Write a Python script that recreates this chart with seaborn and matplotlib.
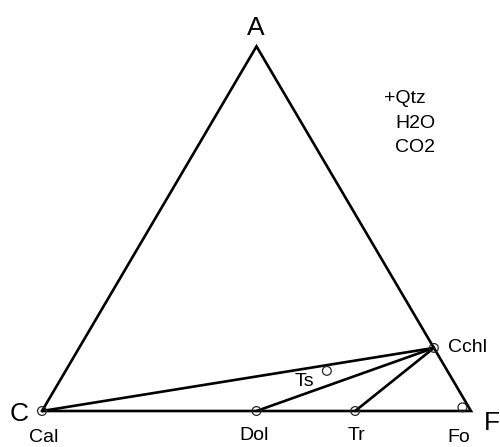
# -*- coding: utf-8 -*-
# ACF ternary diagram (siliceous dolomite, +Qtz H2O CO2)

import numpy as np
import pandas as pd
import matplotlib.pyplot as plt
import seaborn as sns

# phases as (A, C, F) fractions
phases = ['Cal', 'Dol', 'Tr', 'Fo', 'Cchl', 'Ts']
A_frac = [0.0, 0.0, 0.0, 0.01, 0.173, 0.11]
C_frac = [1.0, 0.5, 0.27, 0.015, 0.0, 0.281]
F_frac = [0.0, 0.5, 0.73, 0.975, 0.827, 0.609]

# tie lines between phases
ties = [('Cal', 'Cchl'), ('Dol', 'Cchl'), ('Tr', 'Cchl')]

extra_lines = ['+Qtz', 'H2O', 'CO2']

H = 0.85  # triangle height (drawing is a bit flattened)


def to_xy(a, c, f):
    # ternary -> cartesian, C at left, F at right, A on top
    a = np.asarray(a, dtype=float)
    f = np.asarray(f, dtype=float)
    return f + a / 2.0, a * H


def main():
    sns.set_style('white')
    plt.rcParams['font.family'] = ['Liberation Sans', 'DejaVu Sans']
    plt.rcParams['text.color'] = 'black'

    x, y = to_xy(A_frac, C_frac, F_frac)
    df = pd.DataFrame({'phase': phases, 'x': x, 'y': y})
    pos = df.set_index('phase')

    fig = plt.figure(figsize=(5, 4.47), dpi=100)
    ax = fig.add_axes([0, 0, 1, 1])

    # outer triangle C - F - A
    vx, vy = to_xy([0, 0, 1, 0], [1, 0, 0, 1], [0, 1, 0, 0])
    ax.plot(vx, vy, color='black', lw=1.9, solid_joinstyle='miter', zorder=2)

    # tie lines
    for p1, p2 in ties:
        ax.plot([pos.loc[p1, 'x'], pos.loc[p2, 'x']],
                [pos.loc[p1, 'y'], pos.loc[p2, 'y']],
                color='black', lw=1.9, zorder=2)

    # phase points
    sns.scatterplot(data=df, x='x', y='y', ax=ax, s=40, marker='o',
                    facecolors='none', edgecolor='0.15', linewidth=0.9,
                    legend=False, zorder=3)

    big = 19
    small = 14

    # corner labels
    ax.text(0.499, 0.876, 'A', fontsize=big, ha='center', va='baseline')
    ax.text(-0.054, -0.024, 'C', fontsize=big, ha='center', va='baseline')
    ax.text(1.049, -0.044, 'F', fontsize=big, ha='center', va='baseline')

    # phase labels
    ax.text(0.005, -0.073, 'Cal', fontsize=small, ha='center', va='baseline')
    ax.text(0.494, -0.068, 'Dol', fontsize=small, ha='center', va='baseline')
    ax.text(0.732, -0.068, 'Tr', fontsize=small, ha='center', va='baseline')
    ax.text(0.972, -0.073, 'Fo', fontsize=small, ha='center', va='baseline')
    ax.text(0.991, 0.1375, 'Cchl', fontsize=small, ha='center', va='baseline')
    ax.text(0.611, 0.058, 'Ts', fontsize=small, ha='center', va='baseline')

    # excess phases
    ax.text(0.797, 0.718, extra_lines[0], fontsize=small, ha='left', va='baseline')
    ax.text(0.823, 0.660, extra_lines[1], fontsize=small, ha='left', va='baseline')
    ax.text(0.823, 0.604, extra_lines[2], fontsize=small, ha='left', va='baseline')

    ax.set_xlim(-42 / 429, 458 / 429)
    ax.set_ylim(-36 / 429, 411 / 429)
    ax.axis('off')

    plt.savefig('out.png', dpi=100)


if __name__ == '__main__':
    main()
